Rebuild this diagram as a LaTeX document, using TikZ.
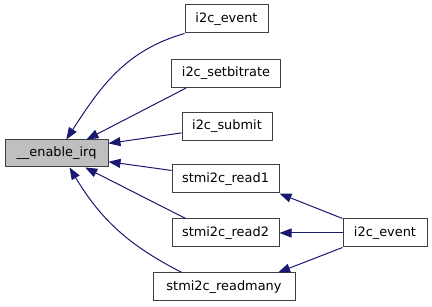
\documentclass[tikz,border=0pt]{standalone}
\usepackage{fontspec}
\setmainfont{DejaVu Sans}
\usepackage{tikz}
\usetikzlibrary{arrows.meta}
\definecolor{callblue}{HTML}{191970}
\definecolor{boxgray}{HTML}{BFBFBF}

\begin{document}
\begin{tikzpicture}[x=1pt, y=-1pt, ->, >={Triangle[length=12pt, width=9pt]},
    fn/.style={draw=black!75, line width=1pt, fill=white, minimum height=28pt,
      inner xsep=10pt, font=\fontsize{12.9}{15}\selectfont},
    every edge/.style={draw=callblue, line width=1pt}]
    \useasboundingbox (0,0) rectangle (432,307);
    \node[fn, fill=boxgray, minimum height=27pt, minimum width=103pt] (irq) at (56.5,153.5) {\_\_enable\_irq};
    \node[fn, minimum width=83pt]  (evtop)      at (226.5,19)  {i2c\_event};
    \node[fn, minimum width=108pt] (setbitrate) at (226,73.5)  {i2c\_setbitrate};
    \node[fn, minimum width=90pt]  (submit)     at (227,126.5) {i2c\_submit};
    \node[fn, minimum width=107pt] (readone)    at (225.5,179) {stmi2c\_read1};
    \node[fn, minimum width=107pt] (readtwo)    at (225.5,233) {stmi2c\_read2};
    \node[fn, minimum width=142pt] (readmany)   at (224,287)   {stmi2c\_readmany};
    \node[fn, minimum width=84pt]  (evright)    at (385,233)   {i2c\_event};
    % callers of __enable_irq
    \path (evtop.south west) edge[out=196, in=57] (irq.55);
    \path (setbitrate.200) edge (irq.25);
    \path (submit.188) edge (irq.11);
    \path (readone.171) edge (irq.-9);
    \path (readtwo.160) edge (irq.-26);
    \path (readmany.161) edge[out=153, in=301] (irq.-47);
    % i2c_event calls the readers
    \path (evright.north west) edge (readone.south east);
    \path (evright.west) edge (readtwo.east);
    \path (evright.south west) edge (readmany.15);
  \end{tikzpicture}
\end{document}
